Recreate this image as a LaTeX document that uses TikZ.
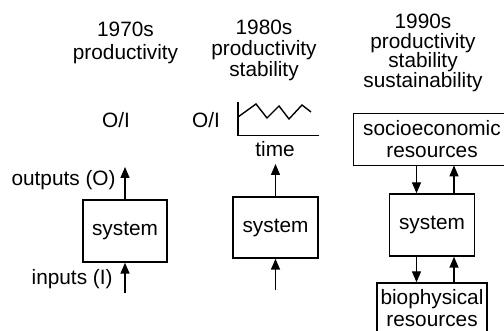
\documentclass[tikz,border=0pt]{standalone}
\usepackage{fontspec}
\setmainfont{Liberation Sans}
\usetikzlibrary{arrows.meta}
\begin{document}
\begin{tikzpicture}[x=0.5pt,y=-0.5pt,
  every node/.style={inner sep=0pt, font=\fontsize{10.4}{11}\selectfont},
  lbl/.style={anchor=base},
  box/.style={draw, line width=0.7pt, align=center},
  frame/.style={line width=0.7pt},
  arr/.style={line width=0.7pt, -{Triangle[length=5.5pt,width=4.5pt]}},
  curve/.style={line width=0.7pt, line join=miter}
]
\useasboundingbox (0,0) rectangle (504,331);
\clip (0,0) rectangle (504,331);

% column headings
\node[lbl] (h70a) at (125.5,36.7) {1970s};
\node[lbl] (h70b) at (125.5,59.5) {productivity};
\node[lbl] (h80a) at (264,35) {1980s};
\node[lbl] (h80b) at (264,56) {productivity};
\node[lbl] (h80c) at (264,77) {stability};
\node[lbl] (h90a) at (423,29) {1990s};
\node[lbl] (h90b) at (423,48.5) {productivity};
\node[lbl] (h90c) at (423,68) {stability};
\node[lbl] (h90d) at (423,88) {sustainability};

% 1970s: single system with inputs and outputs
\node[box, minimum width=42pt, minimum height=31pt] (sys70) at (125,231) {system};
\node[lbl] (oi70) at (116,128) {O/I};
\node[anchor=base east] (outl) at (116,186) {outputs (O)};
\node[anchor=base east] (inl) at (113,285) {inputs (I)};
\coordinate (o70) at (125,167);
\coordinate (i70) at (125,293);
\draw[arr] (sys70.north) -- (o70);
\draw[arr] (i70) -- (sys70.south);

% 1980s: O/I over time
\node[box, minimum width=42.5pt, minimum height=30.5pt] (sys80) at (275.5,227.5) {system};
\node[lbl] (oi80) at (206,128) {O/I};
\node[lbl] (time) at (275,157) {time};
\draw[curve] (238,102) -- (238,135.5) -- (319,135.5);
\draw[curve] (238,117) -- (256,104) -- (267,118) -- (279,106) -- (289,119) -- (302,105) -- (311,112);
\coordinate (o80) at (275.5,164);
\coordinate (i80) at (275.5,290);
\draw[arr] (sys80.north) -- (o80);
\draw[arr] (i80) -- (sys80.south);

% 1990s: system between two resource bases
\node[align=center, minimum width=78pt, minimum height=25.5pt] (soc) at (432,139.5) {socioeconomic\\resources};
\draw[frame] (soc.north west) rectangle ([xshift=20pt]soc.south east);
\node[box, minimum width=42.5pt, minimum height=31pt] (sys90) at (432,225) {system};
\node[box, minimum width=55pt, minimum height=25pt] (bio) at (432,308) {biophysical\\resources};
\coordinate (dn90) at (416.5,0);
\coordinate (up90) at (454,0);
\draw[arr] (dn90 |- soc.south) -- (dn90 |- sys90.north);
\draw[arr] (up90 |- sys90.north) -- (up90 |- soc.south);
\draw[arr] (dn90 |- sys90.south) -- (dn90 |- bio.north);
\draw[arr] (up90 |- bio.north) -- (up90 |- sys90.south);
\end{tikzpicture}
\end{document}
